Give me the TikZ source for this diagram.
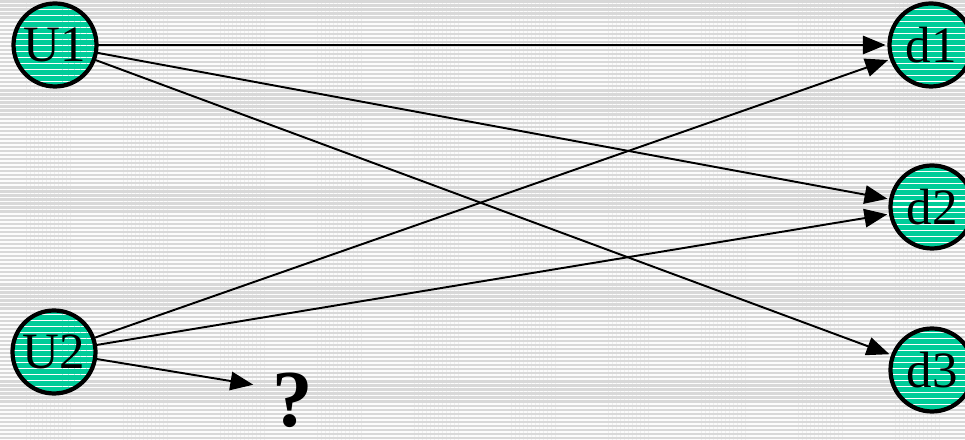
\documentclass[tikz,border=0pt]{standalone}
\usepackage{fontspec}
\setmainfont{Liberation Serif}
\usetikzlibrary{arrows.meta,patterns.meta}
\definecolor{bgrey}{HTML}{D8D8D8}
\definecolor{nodegreen}{HTML}{00CC99}

\begin{document}
\begin{tikzpicture}[>={Triangle[length=13pt,width=10.5pt]},
  unit/.style={circle,draw,line width=2.4pt,minimum size=1.66cm,inner sep=0pt,
    preaction={fill=nodegreen},
    pattern={Lines[angle=0,distance=3.4pt,line width=0.6pt]},pattern color=white,
    font=\fontsize{29}{31}\selectfont},
  link/.style={->,line width=1.1pt,shorten >=1pt}]
  \useasboundingbox (0,0) rectangle (19.3,8.8);
  \fill[bgrey] (0,0) rectangle (19.3,8.8);
  \fill[pattern={Lines[angle=0,distance=2.3pt,line width=1pt]},pattern color=white!92!bgrey]
    (0,0) rectangle (19.3,8.8);
  % sources
  \node[unit] (u1) at (1.10,7.90) {U1};
  \node[unit] (u2) at (1.08,1.76) {U2};
  % sinks
  \node[unit] (d1) at (18.62,7.90) {d1};
  \node[unit] (d2) at (18.64,4.66) {d2};
  \node[unit] (d3) at (18.64,1.40) {d3};
  \coordinate (qtip) at (5.1,1.10);
  \node[inner sep=0pt,font=\bfseries\fontsize{46}{48}\selectfont] (q) at (5.85,0.80) {?};
  \draw[link] (u1) -- (d1);
  \draw[link] (u1) -- (d2);
  \draw[link] (u1) -- (d3);
  \draw[link] (u2) -- (d1);
  \draw[link] (u2) -- (d2);
  \draw[link] (u2) -- (qtip);
\end{tikzpicture}
\end{document}
